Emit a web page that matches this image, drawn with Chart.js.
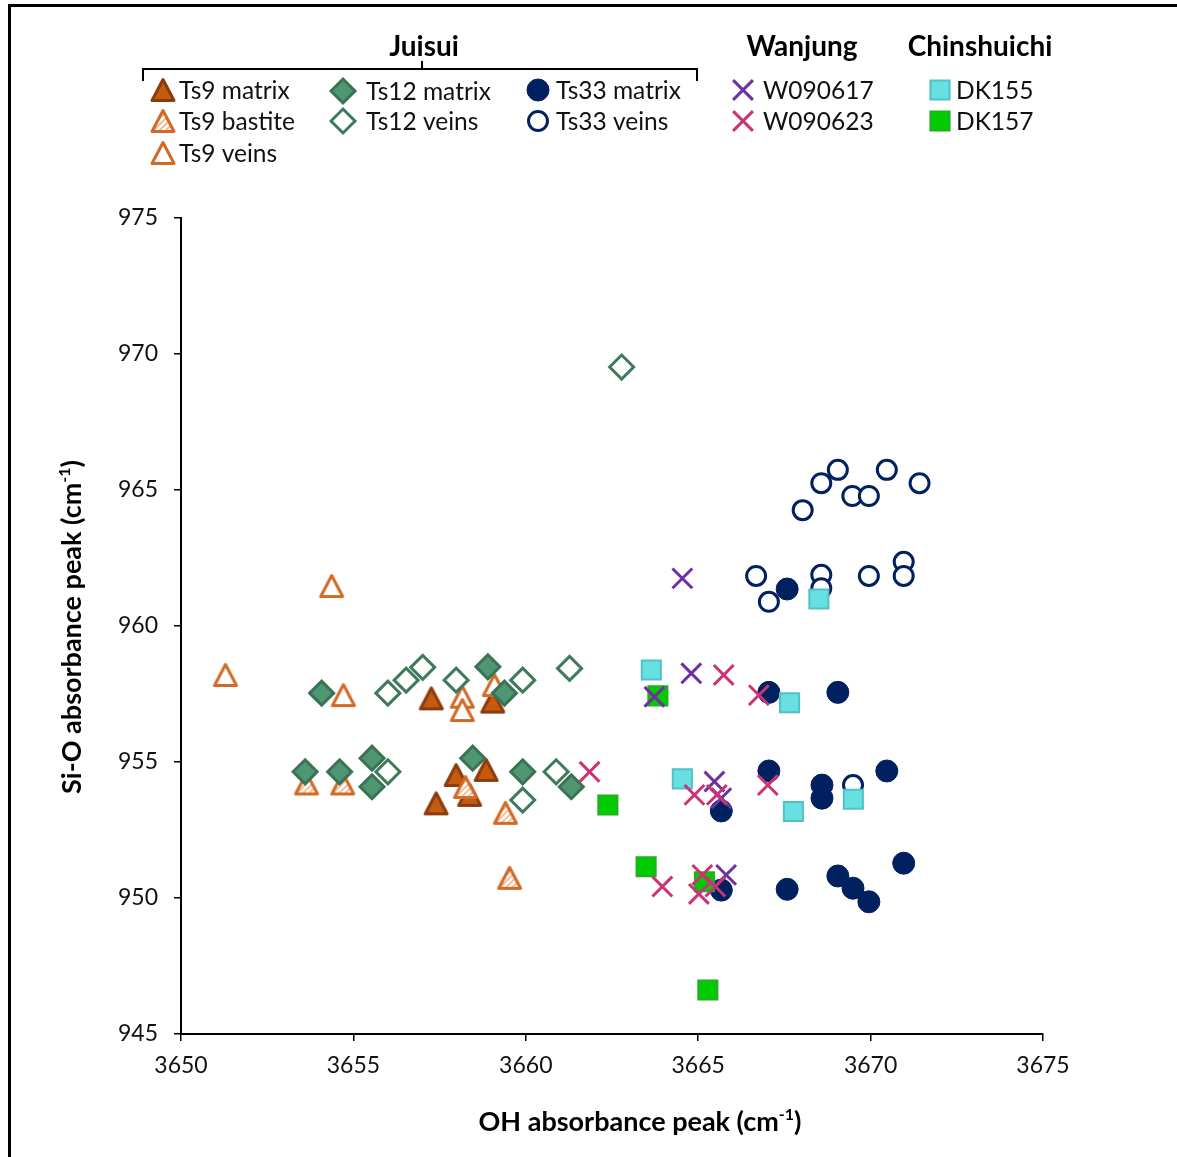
<!DOCTYPE html>
<html>
<head>
<meta charset="utf-8">
<title>Si-O vs OH absorbance peaks</title>
<script src="https://cdn.jsdelivr.net/npm/chart.js"></script>
<style>
  html, body { margin: 0; padding: 0; background: #fff; }
  canvas { display: block; }
</style>
</head>
<body>
<canvas id="peaks" width="1177" height="1157"></canvas>
<script>
// OH absorbance peak (x) and Si-O absorbance peak (y), both in cm-1

// Juisui
const ts9MatrixX = [3657.26, 3659.04, 3657.98, 3658.85, 3657.40, 3658.37];
const ts9MatrixY = [957.34, 957.22, 954.52, 954.71, 953.48, 953.79];
const ts9BastiteX = [3653.64, 3654.69, 3658.25, 3659.41, 3659.53];
const ts9BastiteY = [954.21, 954.21, 954.08, 953.13, 950.74];
const ts9VeinsX = [3651.29, 3654.37, 3654.71, 3658.16, 3658.16, 3659.09];
const ts9VeinsY = [958.20, 961.47, 957.46, 957.40, 956.91, 957.83];
const ts12MatrixX = [3654.08, 3653.60, 3654.60, 3655.54, 3655.54, 3658.90, 3659.38, 3658.46, 3659.91, 3661.32];
const ts12MatrixY = [957.53, 954.64, 954.64, 955.14, 954.09, 958.50, 957.53, 955.14, 954.64, 954.09];
const ts12VeinsX = [3662.78, 3656.00, 3656.53, 3657.01, 3657.98, 3659.91, 3661.27, 3656.00, 3660.88, 3659.91];
const ts12VeinsY = [969.52, 957.53, 958.01, 958.48, 958.01, 958.01, 958.44, 954.64, 954.64, 953.60];
const ts33MatrixX = [3667.58, 3667.05, 3669.05, 3667.05, 3668.59, 3668.59, 3670.47, 3665.67, 3665.67, 3667.58, 3669.05, 3669.49, 3669.95, 3670.96];
const ts33MatrixY = [961.36, 957.56, 957.56, 954.67, 954.15, 953.67, 954.67, 953.20, 950.29, 950.32, 950.81, 950.36, 949.86, 951.28];
const ts33VeinsX = [3668.03, 3668.57, 3669.05, 3669.47, 3669.95, 3670.47, 3671.42, 3666.68, 3667.05, 3668.57, 3668.57, 3669.95, 3670.96, 3670.96, 3669.49];
const ts33VeinsY = [964.26, 965.25, 965.74, 964.78, 964.78, 965.74, 965.25, 961.84, 960.89, 961.88, 961.39, 961.84, 962.36, 961.84, 954.15];

// Wanjung
const w090617X = [3664.54, 3664.80, 3663.73, 3665.47, 3665.67, 3665.81];
const w090617Y = [961.75, 958.26, 957.40, 954.28, 953.67, 950.85];
const w090623X = [3665.74, 3666.76, 3664.89, 3665.54, 3667.02, 3661.85, 3663.96, 3665.12, 3665.02, 3665.50];
const w090623Y = [958.20, 957.46, 953.79, 953.79, 954.15, 954.64, 950.42, 950.85, 950.15, 950.42];

// Chinshuichi
const dk155X = [3668.50, 3663.64, 3667.65, 3664.54, 3667.76, 3669.50];
const dk155Y = [960.99, 958.38, 957.18, 954.38, 953.18, 953.63];
const dk157X = [3663.83, 3662.38, 3663.49, 3665.18, 3665.28];
const dk157Y = [957.43, 953.42, 951.15, 950.60, 946.62];

const xTicks = [3650, 3655, 3660, 3665, 3670, 3675];
const yTicks = [945, 950, 955, 960, 965, 970, 975];

const FONT = 'Lato, "Open Sans", sans-serif';

// triangles are drawn as small canvases so they sit centred on their box
function triangle(fill, stroke) {
  const c = document.createElement('canvas');
  c.width = 30; c.height = 30;
  const g = c.getContext('2d');
  g.beginPath();
  g.moveTo(15, 4.5); g.lineTo(26, 25.5); g.lineTo(4, 25.5); g.closePath();
  g.fillStyle = fill; g.fill();
  g.lineWidth = 3; g.lineJoin = 'round'; g.strokeStyle = stroke; g.stroke();
  return c;
}

function hatch() {
  const p = document.createElement('canvas');
  p.width = 6; p.height = 6;
  const g = p.getContext('2d');
  g.fillStyle = '#fff'; g.fillRect(0, 0, 6, 6);
  g.strokeStyle = '#eeb48c'; g.lineWidth = 1.6;
  g.beginPath(); g.moveTo(-1, 7); g.lineTo(7, -1); g.stroke();
  g.beginPath(); g.moveTo(-4, 4); g.lineTo(4, -4); g.stroke();
  g.beginPath(); g.moveTo(2, 10); g.lineTo(10, 2); g.stroke();
  return g.createPattern(p, 'repeat');
}

const series = [
  { label: 'Ts9 matrix', x: ts9MatrixX, y: ts9MatrixY, style: triangle('#c55a11', '#8a3d0c'), r: 12, fill: '#c55a11', stroke: '#8a3d0c', w: 0 },
  { label: 'Ts9 bastite', x: ts9BastiteX, y: ts9BastiteY, style: triangle(hatch(), '#d06a24'), r: 12, fill: '#fff', stroke: '#d06a24', w: 0 },
  { label: 'Ts9 veins', x: ts9VeinsX, y: ts9VeinsY, style: triangle('#fff', '#d06a24'), r: 12, fill: '#fff', stroke: '#d06a24', w: 0 },
  { label: 'Ts12 matrix', x: ts12MatrixX, y: ts12MatrixY, style: 'rectRot', r: 12, fill: '#4f9673', stroke: '#3b7255', w: 3 },
  { label: 'Ts12 veins', x: ts12VeinsX, y: ts12VeinsY, style: 'rectRot', r: 12, fill: '#fff', stroke: '#3f7a5c', w: 3 },
  { label: 'Ts33 matrix', x: ts33MatrixX, y: ts33MatrixY, style: 'circle', r: 11, fill: '#002060', stroke: '#002060', w: 1 },
  { label: 'Ts33 veins', x: ts33VeinsX, y: ts33VeinsY, style: 'circle', r: 9.5, fill: '#fff', stroke: '#002060', w: 3 },
  { label: 'DK155', x: dk155X, y: dk155Y, style: 'rect', r: 13.5, fill: '#66e0e0', stroke: '#52c0c5', w: 2 },
  { label: 'DK157', x: dk157X, y: dk157Y, style: 'rect', r: 13.5, fill: '#00cc00', stroke: '#22ad22', w: 2 },
  { label: 'W090617', x: w090617X, y: w090617Y, style: 'crossRot', r: 14, fill: '#7030a0', stroke: '#7030a0', w: 3 },
  { label: 'W090623', x: w090623X, y: w090623Y, style: 'crossRot', r: 14, fill: '#cc3377', stroke: '#cc3377', w: 3 }
];

// legend slots: marker x, text x, row y
const legendSpots = {
  'Ts9 matrix': [163, 179, 90], 'Ts9 bastite': [163, 179, 121], 'Ts9 veins': [163, 179, 153],
  'Ts12 matrix': [343, 366, 91], 'Ts12 veins': [343, 366, 121],
  'Ts33 matrix': [538, 556, 90], 'Ts33 veins': [538, 556, 121],
  'W090617': [743, 763, 90], 'W090623': [743, 763, 121],
  'DK155': [940, 956, 90], 'DK157': [940, 956, 121]
};

function drawMarker(g, s, x, y) {
  if (typeof s.style === 'object') {
    g.drawImage(s.style, x - s.style.width / 2, y - s.style.height / 2);
    return;
  }
  g.save();
  g.fillStyle = s.fill; g.strokeStyle = s.stroke; g.lineWidth = s.w;
  g.beginPath();
  const r = s.r;
  if (s.style === 'circle') {
    g.arc(x, y, r, 0, Math.PI * 2);
  } else if (s.style === 'rectRot') {
    g.moveTo(x - r, y); g.lineTo(x, y - r); g.lineTo(x + r, y); g.lineTo(x, y + r); g.closePath();
  } else if (s.style === 'rect') {
    const h = r * Math.SQRT1_2;
    g.rect(x - h, y - h, 2 * h, 2 * h);
  } else if (s.style === 'crossRot') {
    const h = r * Math.SQRT1_2;
    g.moveTo(x - h, y - h); g.lineTo(x + h, y + h);
    g.moveTo(x + h, y - h); g.lineTo(x - h, y + h);
    g.stroke(); g.restore();
    return;
  }
  g.fill();
  if (s.w > 0) g.stroke();
  g.restore();
}

function superText(g, parts, x, y, align) {
  // parts: [text, isSuperscript]
  const big = 'bold 27px ' + FONT, small = 'bold 16px ' + FONT;
  let total = 0;
  parts.forEach(p => { g.font = p[1] ? small : big; total += g.measureText(p[0]).width; });
  let cx = align === 'center' ? x - total / 2 : x;
  g.textAlign = 'left';
  parts.forEach(p => {
    g.font = p[1] ? small : big;
    g.fillText(p[0], cx, p[1] ? y - 11 : y);
    cx += g.measureText(p[0]).width;
  });
}

const decorations = {
  id: 'decorations',
  afterDraw(chart) {
    const g = chart.ctx;
    g.save();
    // outer frame
    g.strokeStyle = '#000'; g.lineWidth = 3;
    g.beginPath(); g.moveTo(9.5, 1157); g.lineTo(9.5, 5.5); g.lineTo(1177, 5.5); g.stroke();

    // group headings
    g.fillStyle = '#000';
    g.font = 'bold 28px ' + FONT; g.textAlign = 'center'; g.textBaseline = 'middle';
    g.fillText('Juisui', 424, 47);
    g.fillText('Wanjung', 802, 47);
    g.fillText('Chinshuichi', 980, 47);

    // bracket under Juisui
    g.lineWidth = 2;
    g.beginPath();
    g.moveTo(143, 81); g.lineTo(143, 69); g.lineTo(697, 69); g.lineTo(697, 81);
    g.moveTo(422, 69); g.lineTo(422, 61);
    g.stroke();

    // legend entries
    g.font = '24.5px ' + FONT; g.textAlign = 'left'; g.textBaseline = 'middle'; g.fillStyle = '#111';
    series.forEach(s => {
      const [mx, tx, ty] = legendSpots[s.label];
      drawMarker(g, s, mx, ty);
      g.fillText(s.label, tx, ty + 1);
    });

    // axis titles
    g.fillStyle = '#000'; g.textBaseline = 'alphabetic';
    superText(g, [['OH absorbance peak (cm', false], ['-1', true], [')', false]], 640, 1131, 'center');
    g.translate(81, 627);
    g.rotate(-Math.PI / 2);
    superText(g, [['Si-O absorbance peak (cm', false], ['-1', true], [')', false]], 0, 0, 'center');
    g.restore();
  }
};

new Chart(document.getElementById('peaks'), {
  type: 'scatter',
  data: {
    datasets: series.map((s, i) => ({
      label: s.label,
      data: s.x.map((v, k) => ({ x: v, y: s.y[k] })),
      pointStyle: s.style,
      pointRadius: s.r,
      pointHoverRadius: s.r,
      pointBackgroundColor: s.fill,
      pointBorderColor: s.stroke,
      pointBorderWidth: s.w,
      pointHoverBorderWidth: s.w,
      order: series.length - i // later series are painted on top
    }))
  },
  options: {
    responsive: false,
    animation: false,
    layout: { padding: { top: 218, right: 134, bottom: 0, left: 0 } },
    plugins: { legend: { display: false }, tooltip: { enabled: false } },
    scales: {
      x: {
        type: 'linear', min: 3650, max: 3675,
        afterBuildTicks: s => { s.ticks = xTicks.map(v => ({ value: v })); },
        afterFit: s => { s.height = 123; },
        ticks: { color: '#111', font: { family: FONT, size: 23 }, padding: 11, callback: v => String(v) },
        grid: { drawOnChartArea: false, drawTicks: true, tickLength: 7, color: '#000', lineWidth: 1.5 },
        border: { color: '#000', width: 2 }
      },
      y: {
        type: 'linear', min: 945, max: 975,
        afterBuildTicks: s => { s.ticks = yTicks.map(v => ({ value: v })); },
        afterFit: s => { s.width = 181; },
        ticks: { color: '#111', font: { family: FONT, size: 23 }, padding: 16, callback: v => String(v) },
        grid: { drawOnChartArea: false, drawTicks: true, tickLength: 7, color: '#000', lineWidth: 1.5 },
        border: { color: '#000', width: 2 }
      }
    }
  },
  plugins: [decorations]
});
</script>
</body>
</html>
